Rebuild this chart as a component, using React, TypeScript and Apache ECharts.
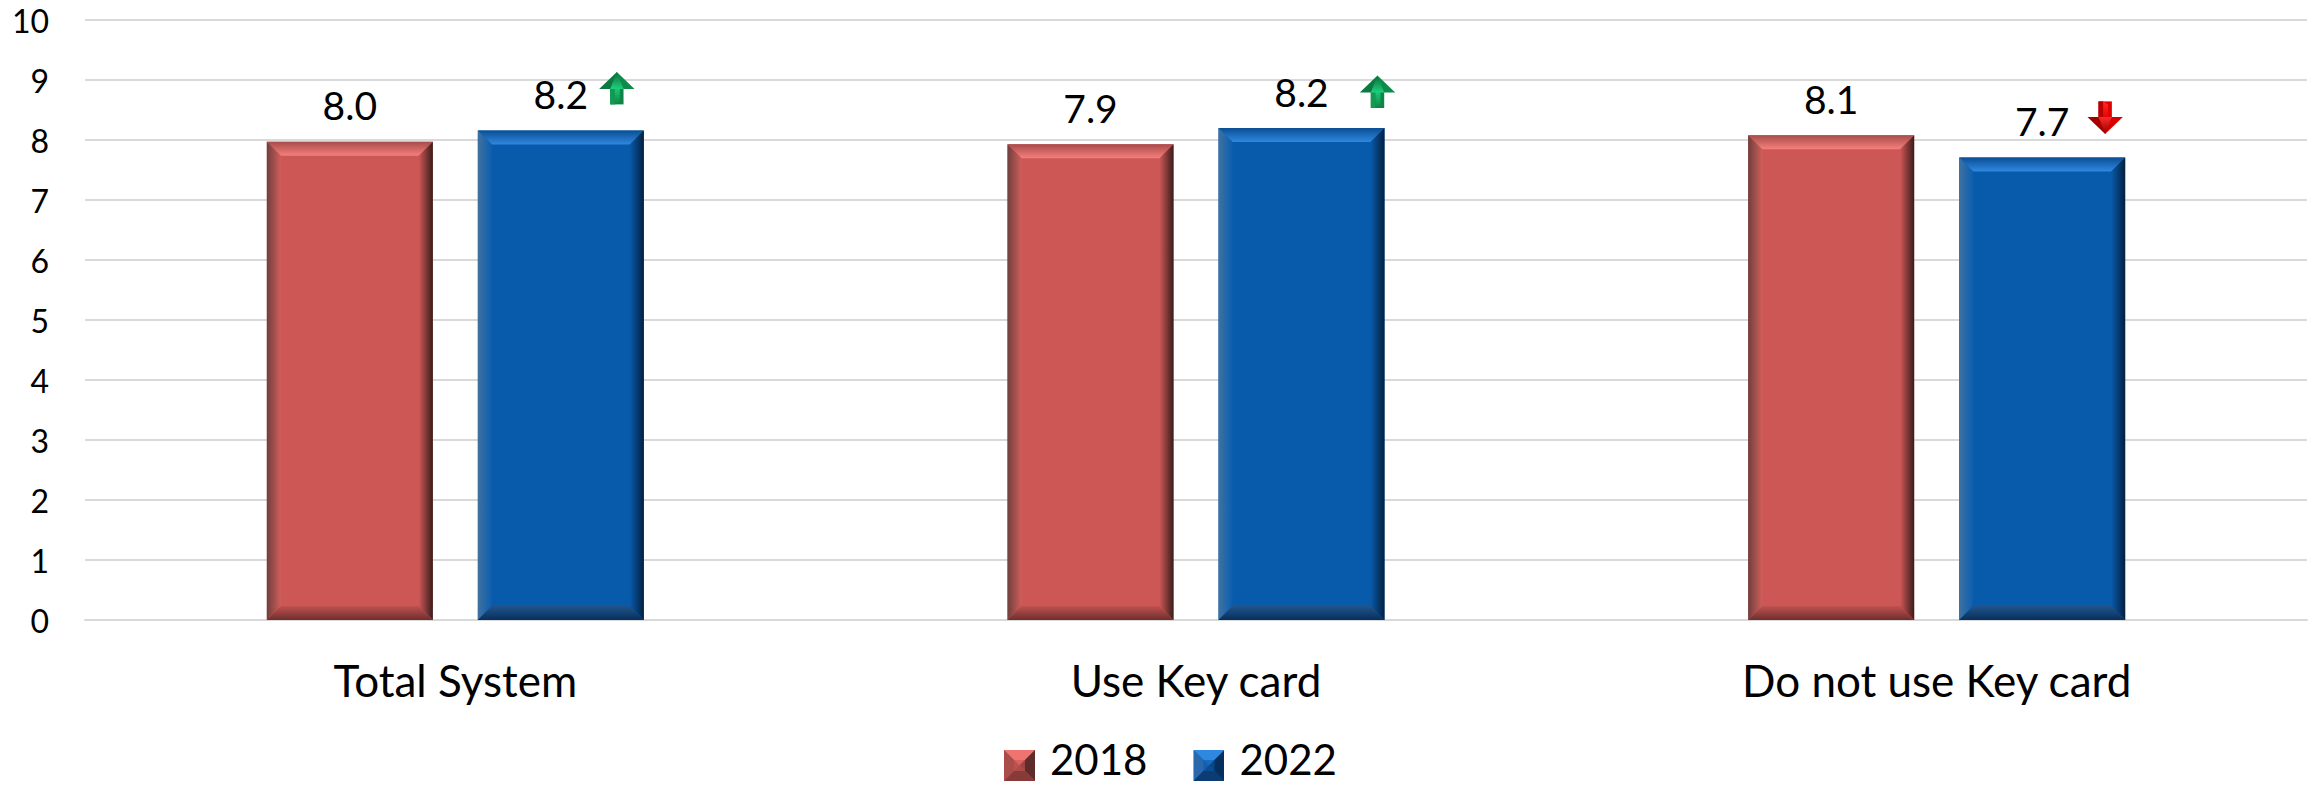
import React, { useEffect, useRef } from "react";
import * as echarts from "echarts";

const categories = ["Total System", "Use Key card", "Do not use Key card"];
const values2018 = [7.97, 7.93, 8.08];
const values2022 = [8.16, 8.2, 7.71];
const arrowDirections = [1, 1, -1];
const yTicks = [0, 1, 2, 3, 4, 5, 6, 7, 8, 9, 10];

const FONT = "Lato";
const BAR_W = 166;
const BAR_GAP = 45;
const BEVEL = 14;
const ARROW_DX = [56, 76, 63];
const ARROW_DY = [-42, -36, -40];

const RED = { main: "#CD5755", topA: "#a84c4a", topB: "#f67f7c", leftA: "#6f3f3d", leftB: "#cf5e5b", rightA: "#cd5755", rightB: "#3a1c1b", botA: "#c0524f", botB: "#6c2f2e" };
const BLUE = { main: "#085AAB", topA: "#0a4e94", topB: "#2f88e0", leftA: "#41719f", leftB: "#0b5fb1", rightA: "#085AAB", rightB: "#04203f", botA: "#22558c", botB: "#072f5c" };
const RED_ICON = { top: "#ef7370", left: "#a94d4b", right: "#5e2c2b", bottom: "#863b39", main: "#c95553" };
const BLUE_ICON = { top: "#2f88e0", left: "#2a68ad", right: "#052f5f", bottom: "#0b3c74", main: "#085AAB" };

const grad = (x: number, y: number, x2: number, y2: number, a: string, b: string) =>
  new echarts.graphic.LinearGradient(x, y, x2, y2, [
    { offset: 0, color: a },
    { offset: 1, color: b },
  ]);

const bevelItem = (pal: typeof RED, offset: number) => (_: any, api: any) => {
  const [cx, y0] = api.coord([api.value(0), api.value(1)]);
  const [, yb] = api.coord([api.value(0), 0]);
  const l = cx + offset;
  const r = l + BAR_W;
  const t = y0;
  const b = yb;
  const poly = (pts: number[][], fill: any) => ({ type: "polygon", shape: { points: pts }, style: { fill } });
  return {
    type: "group",
    silent: true,
    children: [
      poly([[l, t], [r, t], [r - BEVEL, t + BEVEL], [l + BEVEL, t + BEVEL]], grad(0, 0, 0, 1, pal.topA, pal.topB)),
      poly([[l, t], [l + BEVEL, t + BEVEL], [l + BEVEL, b - BEVEL], [l, b]], grad(0, 0, 1, 0, pal.leftA, pal.leftB)),
      poly([[r, t], [r - BEVEL, t + BEVEL], [r - BEVEL, b - BEVEL], [r, b]], grad(0, 0, 1, 0, pal.rightA, pal.rightB)),
      poly([[l, b], [l + BEVEL, b - BEVEL], [r - BEVEL, b - BEVEL], [r, b]], grad(0, 0, 0, 1, pal.botA, pal.botB)),
    ],
  };
};

const arrowItem = (params: any, api: any) => {
  const i = api.value(0);
  const dir = arrowDirections[i];
  const [cx, y0] = api.coord([i, api.value(1)]);
  const x = cx + (BAR_W + BAR_GAP) / 2 + ARROW_DX[i];
  const y = y0 + ARROW_DY[i];
  const up = dir > 0;
  const sgn = up ? 1 : -1;
  const P = (dx: number, dy: number) => [x + dx, y + sgn * dy];
  const c = up
    ? { headL: "#0a7a40", headR: "#0d8c4a", top: "#0a6a38", shaftL: "#129a55", mid: "#1fd07c", shaftR: "#0c8546" }
    : { headL: "#a30000", headR: "#d80000", top: "#8f0000", shaftL: "#b80000", mid: "#ff2a2a", shaftR: "#e00000" };
  const poly = (pts: number[][], fill: any) => ({ type: "polygon", shape: { points: pts }, style: { fill } });
  return {
    type: "group",
    silent: true,
    children: [
      poly([P(-6.7, 0), P(6.7, 0), P(6.7, 16), P(-6.7, 16)], c.shaftR),
      poly([P(-6.7, 0), P(-2, 0), P(-2, 16), P(-6.7, 16)], c.shaftL),
      poly([P(-2, -2), P(3, -2), P(3, 13), P(-2, 16)], grad(0, 0, 0, 1, c.mid, c.shaftR)),
      poly([P(0, -16.5), P(-17.7, 0.5), P(-6.7, 0.5), P(0, -5)], c.headL),
      poly([P(0, -16.5), P(17.7, 0.5), P(6.7, 0.5), P(0, -5)], c.headR),
      poly([P(0, -16.5), P(-6.7, 0.5), P(6.7, 0.5)], grad(0, up ? 0 : 1, 0, up ? 1 : 0, c.top, c.mid)),
    ],
  };
};

// The transparent upper 13px keep the square low in the legend row, level with the reference's.
const legendIcon = (ic: typeof RED_ICON) => {
  const svg = `<svg xmlns="http://www.w3.org/2000/svg" width="31" height="44" viewBox="0 0 31 44"><g transform="translate(0 13)"><rect width="31" height="31" fill="${ic.main}"/><polygon points="0,0 31,0 15.5,15.5" fill="${ic.top}"/><polygon points="0,0 0,31 15.5,15.5" fill="${ic.left}"/><polygon points="31,0 31,31 15.5,15.5" fill="${ic.right}"/><polygon points="0,31 31,31 15.5,15.5" fill="${ic.bottom}"/><rect x="10" y="10" width="11" height="11" fill="${ic.main}" opacity="0.6"/></g></svg>`;
  return "image://data:image/svg+xml;charset=utf-8," + encodeURIComponent(svg);
};

const App = () => {
  const ref = useRef<HTMLDivElement>(null);
  useEffect(() => {
    const chart = echarts.init(ref.current!, null, { renderer: "svg" });
    const label = {
      show: true,
      position: "top" as const,
      distance: 17,
      fontFamily: FONT,
      fontSize: 39,
      color: "#000",
      formatter: (p: any) => p.value.toFixed(1),
    };
    const withIdx = (arr: number[]) => arr.map((v, i) => [i, v]);
    chart.setOption({
      animation: false,
      backgroundColor: "#fff",
      grid: { left: 85, right: 11, top: 20, bottom: 165, containLabel: false },
      legend: {
        left: 1004,
        top: 737,
        padding: 0,
        itemWidth: 31,
        itemHeight: 44,
        itemGap: 46,
        textStyle: { fontFamily: FONT, fontSize: 42, color: "#000", padding: [0, 0, 0, 10] },
        data: [
          { name: "2018", icon: legendIcon(RED_ICON) },
          { name: "2022", icon: legendIcon(BLUE_ICON) },
        ],
      },
      xAxis: {
        type: "category",
        data: categories,
        axisTick: { show: false },
        axisLine: { show: true, lineStyle: { color: "#d9d9d9", width: 2 } },
        axisLabel: { fontFamily: FONT, fontSize: 44, color: "#000", margin: 38 },
      },
      yAxis: {
        type: "value",
        min: yTicks[0],
        max: yTicks[yTicks.length - 1],
        interval: 1,
        axisLine: { show: false },
        axisTick: { show: false },
        splitLine: { lineStyle: { color: "#d9d9d9", width: 2 } },
        axisLabel: { fontFamily: FONT, fontSize: 32, color: "#000", margin: 36 },
      },
      series: [
        { name: "2018", type: "bar", data: values2018, barWidth: BAR_W, barGap: (BAR_GAP / BAR_W) * 100 + "%", itemStyle: { color: RED.main }, label },
        { name: "2022", type: "bar", data: values2022, barWidth: BAR_W, itemStyle: { color: BLUE.main }, label },
        { type: "custom", data: withIdx(values2018), encode: { x: 0, y: 1 }, renderItem: bevelItem(RED, -(BAR_W + BAR_GAP / 2)), silent: true, z: 3 },
        { type: "custom", data: withIdx(values2022), encode: { x: 0, y: 1 }, renderItem: bevelItem(BLUE, BAR_GAP / 2), silent: true, z: 3 },
        { type: "custom", data: withIdx(values2022), encode: { x: 0, y: 1 }, renderItem: arrowItem, silent: true, z: 4, clip: false },
      ],
    });
    return () => chart.dispose();
  }, []);
  return <div ref={ref} style={{ position: "absolute", left: 0, top: 0, width: 2318, height: 785 }} />;
};

export default App;
